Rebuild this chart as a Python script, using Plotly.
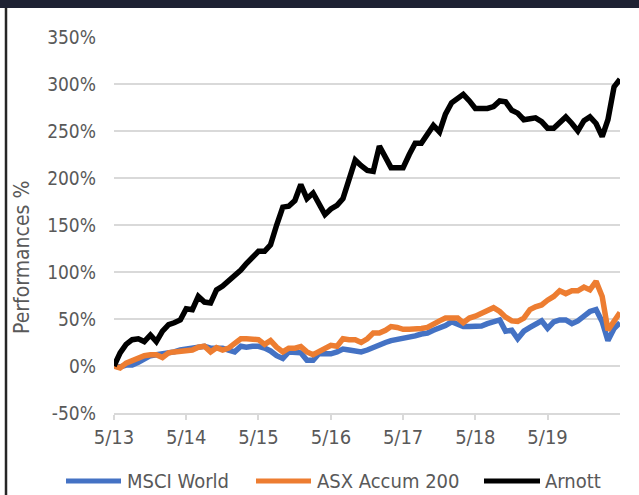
import pandas as pd
import plotly.graph_objects as go

# ---- data (monthly, May 2013 -> May 2020), performance in % ----
dates = pd.date_range("2013-05-01", periods=85, freq="MS")

msci_world = [0, -1, 1, 1, 4, 8, 11, 12, 13, 13, 15, 17, 18, 19, 20, 21, 19, 19, 19, 17,
              15, 21, 20, 21, 21, 19, 16, 11, 8, 15, 15, 14, 6, 6, 13, 13, 13, 15, 18, 17,
              16, 15, 17, 20, 22, 25, 27, 28, 29, 30, 32, 34, 35, 38, 40, 43, 47, 45, 42, 42,
              42.5, 42.5, 45, 47, 49, 37, 38, 29, 37, 41, 44, 48, 40, 47, 49, 49, 45, 48, 53, 58,
              60, 47, 27, 40, 46]

asx_accum_200 = [0, -2, 3, 6, 8, 11, 12, 12, 9, 14, 15, 16, 17, 17, 20, 21, 15, 19.5, 17, 19,
                 24, 29, 29, 28, 28, 23, 27, 20, 15, 19, 19, 20.6, 15, 12, 15, 19, 22, 21, 29, 28,
                 28, 25, 29, 35, 35, 38, 42, 41, 39, 39, 39, 40, 41, 45, 48, 51, 51, 51, 46, 51,
                 53, 56, 59, 62, 58, 52, 48, 47.5, 51, 60, 63, 65, 70, 74, 80, 77, 80, 80, 84, 81,
                 90, 74, 38, 49, 57]

arnott = [0, 14, 23, 28, 29, 26, 33, 26, 37, 44, 46, 49, 61, 60, 74, 68, 67, 81, 85, 90,
          96, 102, 109, 116, 122, 122, 129, 150, 169, 170, 176, 193, 178, 184, 172, 161, 167, 171, 178, 198,
          219, 213, 208, 207, 234, 222, 211, 211, 211, 225, 237, 237, 248, 256, 249, 268, 280, 285, 289, 282,
          274, 274, 274, 276, 282, 281, 272, 269, 262, 263, 264, 260, 253, 253, 258, 265, 258, 250, 261, 265,
          258, 244, 262, 297, 305]

series_names = ["MSCI World", "ASX Accum 200", "Arnott"]
series_colors = ["#4472C4", "#ED7D31", "#000000"]

tick_dates = ["2013-05-01", "2014-05-01", "2015-05-01", "2016-05-01",
              "2017-05-01", "2018-05-01", "2019-05-01"]
tick_labels = ["5/13", "5/14", "5/15", "5/16", "5/17", "5/18", "5/19"]
y_ticks = [-50, 0, 50, 100, 150, 200, 250, 300, 350]
y_labels = ["-50%", "0%", "50%", "100%", "150%", "200%", "250%", "300%", "350%"]

FONT = "DejaVu Sans Condensed, DejaVu Sans, sans-serif"
TXT = "#595959"
GRID = "#D9D9D9"

fig = go.Figure()
for name, vals, col in zip(series_names, [msci_world, asx_accum_200, arnott], series_colors):
    fig.add_trace(go.Scatter(x=dates, y=vals, mode="lines", name=name,
                             line=dict(color=col, width=5.5, shape="linear"),
                             showlegend=False))

# plot area pixel geometry: x 114..620, y 37..413
L, R, T, B = 114, 620, 37, 413
W, H = R - L, B - T
def px(x):
    return (x - L) / W
def py(y):
    return (B - y) / H

fig.update_layout(
    width=639, height=495,
    margin=dict(l=L, r=639 - R, t=T, b=495 - B),
    paper_bgcolor="white", plot_bgcolor="white",
    font=dict(family=FONT, color=TXT, size=18),
    xaxis=dict(range=["2013-05-01", "2020-05-01"], tickvals=tick_dates, ticktext=tick_labels,
               showgrid=False, zeroline=False, showline=True, linecolor=GRID, linewidth=1.5,
               ticks="outside", ticklen=5, tickcolor=GRID, tickwidth=1.5,
               tickfont=dict(size=20, color=TXT, family=FONT)),
    yaxis=dict(range=[-50, 350], tickvals=y_ticks, ticktext=y_labels,
               showgrid=True, gridcolor=GRID, gridwidth=1.5, zeroline=False,
               ticks="", ticklabelstandoff=17,
               tickfont=dict(size=19, color=TXT, family=FONT)),
)

# y-axis title
fig.add_annotation(text="Performances %", xref="paper", yref="paper",
                   x=px(22), y=py(258), textangle=-90, showarrow=False,
                   font=dict(size=21, color=TXT, family=FONT), xanchor="center", yanchor="middle")

# custom legend
legend_items = [(66, 121, 125), (256, 311, 315), (484, 540, 543)]
ly = py(481)
for (x0, x1, tx), name, col in zip(legend_items, series_names, series_colors):
    fig.add_shape(type="line", xref="paper", yref="paper", x0=px(x0), x1=px(x1), y0=ly, y1=ly,
                  line=dict(color=col, width=5))
    fig.add_annotation(text=name, xref="paper", yref="paper", x=px(tx), y=ly,
                       xanchor="left", yanchor="middle", showarrow=False,
                       font=dict(size=20, color=TXT, family=FONT))

# frame decorations: dark top band and left border
fig.add_shape(type="rect", xref="paper", yref="paper", x0=px(0), x1=px(639),
              y0=py(8), y1=py(0), fillcolor="#1E2233", line=dict(width=0), layer="above")
fig.add_shape(type="line", xref="paper", yref="paper", x0=px(6), x1=px(6),
              y0=py(8), y1=py(495), line=dict(color="#262626", width=2.5))

fig.write_html("out.html", config={"displayModeBar": False},
               post_script="document.body.style.margin='0';document.body.style.overflow='hidden';")
